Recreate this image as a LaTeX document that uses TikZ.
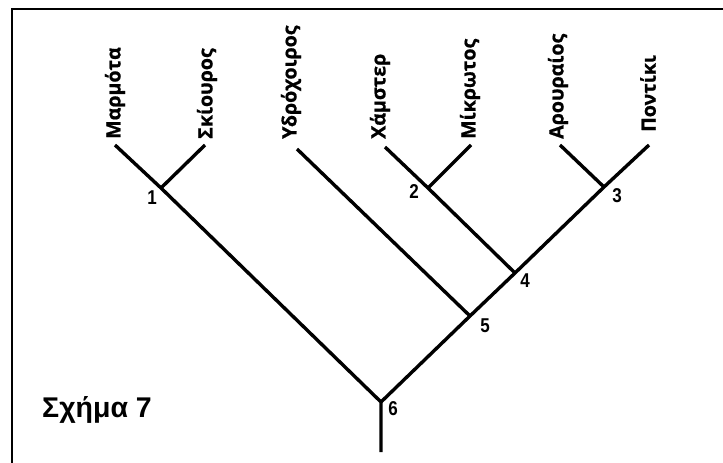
\documentclass[tikz,border=0pt]{standalone}
\usepackage{fontspec}
\setmainfont{Liberation Sans}
\newfontfamily\leaffont{Open Sans}[BoldFeatures={FakeBold=0.8}]
\tikzset{
  branch/.style={line width=3.4pt, black, line join=miter, line cap=butt},
  frame/.style={line width=2.2pt, black},
  taxon/.style={rotate=90, anchor=west, inner sep=0pt, font=\leaffont\bfseries\fontsize{19.6}{22}\selectfont},
  num/.style={inner sep=0pt, font=\bfseries\fontsize{20}{22}\selectfont},
  title/.style={inner sep=0pt, font=\bfseries\fontsize{28.5}{31}\selectfont},
}
\begin{document}
\begin{tikzpicture}[x=1pt, y=-1pt]
\useasboundingbox (0,0) rectangle (723,463);
% frame
\coordinate (fbl) at (12,463);
\coordinate (ftl) at (12,9);
\coordinate (ftr) at (723,9);
\draw[frame] (fbl) -- (ftl) -- (ftr);
% junctions
\coordinate (root) at (381,452);
\coordinate (n6) at (381,402);
\coordinate (n5) at (470,316);
\coordinate (n4) at (515,273);
\coordinate (n3) at (604,187);
\coordinate (n2) at (428,188);
\coordinate (n1) at (161,188);
% tips
\coordinate (t1) at (115,145);
\coordinate (t2) at (205,145);
\coordinate (t3) at (297,149);
\coordinate (t4) at (385,147);
\coordinate (t5) at (471,145);
\coordinate (t6) at (560,145);
\coordinate (t7) at (649,145);
% branches
\draw[branch] (root) -- (n6) -- (n1) -- (t1);
\draw[branch] (n1) -- (t2);
\draw[branch] (n6) -- (n5) -- (n4) -- (n3) -- (t7);
\draw[branch] (n5) -- (t3);
\draw[branch] (n4) -- (n2) -- (t4);
\draw[branch] (n2) -- (t5);
\draw[branch] (n3) -- (t6);
% taxa
\node[taxon] (l1) at (115,139) {Μαρμότα};
\node[taxon] (l2) at (207,139) {Σκίουρος};
\node[taxon] (l3) at (291,139) {Υδρόχοιρος};
\node[taxon] (l4) at (380,139) {Χάμστερ};
\node[taxon] (l5) at (470,139) {Μίκρωτος};
\node[taxon] (l6) at (558,139) {Αρουραίος};
\node[taxon] (l7) at (648,132) {Ποντίκι};
% node numbers
\node[num] (k1) at (152,198) {\scalebox{0.85}[1]{1}};
\node[num] (k2) at (414,192) {\scalebox{0.85}[1]{2}};
\node[num] (k3) at (617,196) {\scalebox{0.85}[1]{3}};
\node[num] (k4) at (525,281) {\scalebox{0.85}[1]{4}};
\node[num] (k5) at (485,326) {\scalebox{0.85}[1]{5}};
\node[num] (k6) at (393,409) {\scalebox{0.85}[1]{6}};
% title
\node[title] (cap) at (97,410) {Σχήμα 7};
\end{tikzpicture}
\end{document}
